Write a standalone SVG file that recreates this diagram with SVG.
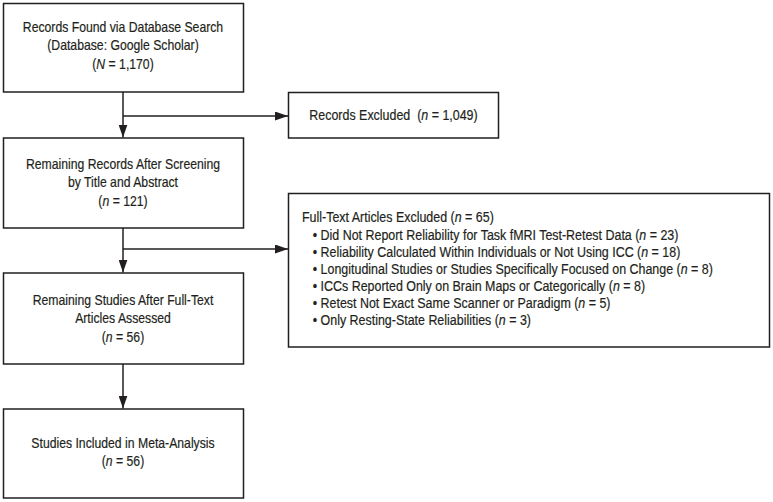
<svg xmlns="http://www.w3.org/2000/svg" width="773" height="502" viewBox="0 0 773 502">
<style>
.box{fill:#fff;stroke:#231f20;stroke-width:1.5}
.t{font-family:"Liberation Sans",Arial,sans-serif;font-size:15px;fill:#231f20;stroke:#231f20;stroke-width:0.2}
.c{text-anchor:middle}
.i{font-style:italic}
.ln{fill:none;stroke:#231f20;stroke-width:1.5}
</style>
<defs>
<marker id="ah" markerUnits="userSpaceOnUse" markerWidth="13" markerHeight="9" refX="13" refY="4.5" orient="auto">
<path d="M0,0 L13,4.5 L0,9 Z" fill="#231f20"/>
</marker>
</defs>
<rect width="773" height="502" fill="#fff"/>
<g id="connectors">
<line class="ln" x1="123" y1="92" x2="123" y2="137.5" marker-end="url(#ah)"/>
<line class="ln" x1="123" y1="116" x2="288" y2="116" marker-end="url(#ah)"/>
<line class="ln" x1="123" y1="228" x2="123" y2="272.5" marker-end="url(#ah)"/>
<line class="ln" x1="123" y1="249" x2="288" y2="249" marker-end="url(#ah)"/>
<line class="ln" x1="123" y1="364" x2="123" y2="408.5" marker-end="url(#ah)"/>
</g>
<g id="n1">
<rect class="box" x="3.5" y="3.5" width="240" height="88.5"/>
<g class="t c" transform="translate(123 0) scale(0.815 1)">
<text x="0" y="32">Records Found via Database Search</text>
<text x="0" y="50.5">(Database: Google Scholar)</text>
<text x="0" y="69">(<tspan class="i">N</tspan> = 1,170)</text>
</g>
</g>
<g id="n2">
<rect class="box" x="3.5" y="138" width="240" height="90"/>
<g class="t c" transform="translate(123 0) scale(0.815 1)">
<text x="0" y="169">Remaining Records After Screening</text>
<text x="0" y="187.5">by Title and Abstract</text>
<text x="0" y="206">(<tspan class="i">n</tspan> = 121)</text>
</g>
</g>
<g id="n3">
<rect class="box" x="3.5" y="273" width="240" height="91"/>
<g class="t c" transform="translate(123 0) scale(0.815 1)">
<text x="0" y="305">Remaining Studies After Full-Text</text>
<text x="0" y="323.5">Articles Assessed</text>
<text x="0" y="342">(<tspan class="i">n</tspan> = 56)</text>
</g>
</g>
<g id="n4">
<rect class="box" x="3.5" y="409" width="240" height="89"/>
<g class="t c" transform="translate(123 0) scale(0.815 1)">
<text x="0" y="448">Studies Included in Meta-Analysis</text>
<text x="0" y="466.5">(<tspan class="i">n</tspan> = 56)</text>
</g>
</g>
<g id="n5">
<rect class="box" x="288.5" y="92.5" width="210" height="45.5"/>
<g class="t c" transform="translate(393.5 0) scale(0.83 1)">
<text x="0" y="120" xml:space="preserve">Records Excluded  (<tspan class="i">n</tspan> = 1,049)</text>
</g>
</g>
<g id="n6">
<rect class="box" x="288.5" y="193.5" width="481" height="153.5"/>
<g class="t" transform="translate(302 0) scale(0.83 1)">
<text x="0" y="222.5">Full-Text Articles Excluded (<tspan class="i">n</tspan> = 65)</text>
<text x="13" y="240">• Did Not Report Reliability for Task fMRI Test-Retest Data (<tspan class="i">n</tspan> = 23)</text>
<text x="13" y="257">• Reliability Calculated Within Individuals or Not Using ICC (<tspan class="i">n</tspan> = 18)</text>
<text x="13" y="274">• Longitudinal Studies or Studies Specifically Focused on Change (<tspan class="i">n</tspan> = 8)</text>
<text x="13" y="291">• ICCs Reported Only on Brain Maps or Categorically (<tspan class="i">n</tspan> = 8)</text>
<text x="13" y="308">• Retest Not Exact Same Scanner or Paradigm (<tspan class="i">n</tspan> = 5)</text>
<text x="13" y="325">• Only Resting-State Reliabilities (<tspan class="i">n</tspan> = 3)</text>
</g>
</g>
</svg>
